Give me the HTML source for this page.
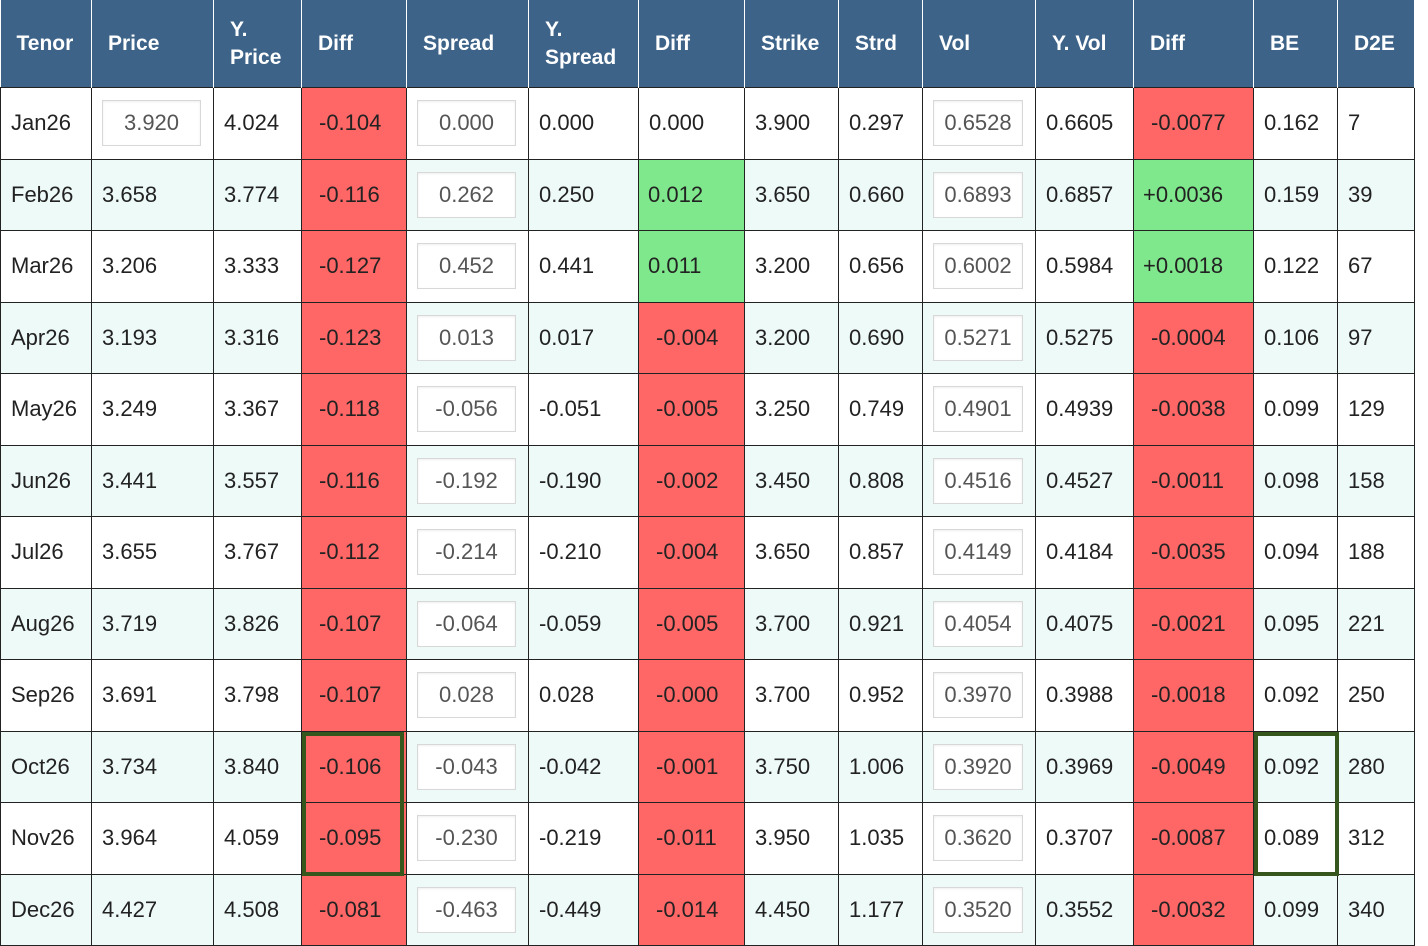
<!DOCTYPE html><html><head><style>
body{margin:0;background:#fff;width:1428px;height:946px;overflow:hidden;font-family:"Liberation Sans",sans-serif;}
table{position:absolute;left:0;top:0;border-collapse:collapse;table-layout:fixed;width:1414px;}
th{background:#3d6389;color:#fff;font-size:21px;font-weight:bold;text-align:left;padding:0 0 0 16px;height:87px;border-right:1.5px solid #fff;line-height:28px;}
td{font-size:22px;color:#222;padding:0 0 0 10px;border:1.5px solid #222;height:70.5px;white-space:nowrap;}
tbody tr:nth-child(even) td{background:#eefaf8;}
tbody tr:nth-child(odd) td{background:#fff;}
tbody tr td.r{background:#ff6666;padding-left:17px;}
tbody tr td.g{background:#80e88c;padding-left:9px;}
.b{display:inline-block;border:1.5px solid #d8d8d8;background:#fff;width:97px;height:44px;line-height:44px;text-align:center;color:#555;box-shadow:inset 0 1px 2px #eee;}
.v{width:88px;}
.hl{position:absolute;border:4px solid #35561c;box-sizing:border-box;}
</style></head><body>
<table>
<colgroup><col style="width:91px"><col style="width:122px"><col style="width:88px"><col style="width:105px"><col style="width:122px"><col style="width:110px"><col style="width:106px"><col style="width:94px"><col style="width:84px"><col style="width:113px"><col style="width:98px"><col style="width:120px"><col style="width:84px"><col style="width:77px"></colgroup>
<thead><tr><th>Tenor</th><th>Price</th><th>Y.<br>Price</th><th>Diff</th><th>Spread</th><th>Y.<br>Spread</th><th>Diff</th><th>Strike</th><th>Strd</th><th>Vol</th><th>Y. Vol</th><th>Diff</th><th>BE</th><th>D2E</th></tr></thead>
<tbody>
<tr><td>Jan26</td><td><span class="b">3.920</span></td><td>4.024</td><td class="r">-0.104</td><td><span class="b">0.000</span></td><td>0.000</td><td>0.000</td><td>3.900</td><td>0.297</td><td><span class="b v">0.6528</span></td><td>0.6605</td><td class="r">-0.0077</td><td>0.162</td><td>7</td></tr>
<tr><td>Feb26</td><td>3.658</td><td>3.774</td><td class="r">-0.116</td><td><span class="b">0.262</span></td><td>0.250</td><td class="g">0.012</td><td>3.650</td><td>0.660</td><td><span class="b v">0.6893</span></td><td>0.6857</td><td class="g">+0.0036</td><td>0.159</td><td>39</td></tr>
<tr><td>Mar26</td><td>3.206</td><td>3.333</td><td class="r">-0.127</td><td><span class="b">0.452</span></td><td>0.441</td><td class="g">0.011</td><td>3.200</td><td>0.656</td><td><span class="b v">0.6002</span></td><td>0.5984</td><td class="g">+0.0018</td><td>0.122</td><td>67</td></tr>
<tr><td>Apr26</td><td>3.193</td><td>3.316</td><td class="r">-0.123</td><td><span class="b">0.013</span></td><td>0.017</td><td class="r">-0.004</td><td>3.200</td><td>0.690</td><td><span class="b v">0.5271</span></td><td>0.5275</td><td class="r">-0.0004</td><td>0.106</td><td>97</td></tr>
<tr><td>May26</td><td>3.249</td><td>3.367</td><td class="r">-0.118</td><td><span class="b">-0.056</span></td><td>-0.051</td><td class="r">-0.005</td><td>3.250</td><td>0.749</td><td><span class="b v">0.4901</span></td><td>0.4939</td><td class="r">-0.0038</td><td>0.099</td><td>129</td></tr>
<tr><td>Jun26</td><td>3.441</td><td>3.557</td><td class="r">-0.116</td><td><span class="b">-0.192</span></td><td>-0.190</td><td class="r">-0.002</td><td>3.450</td><td>0.808</td><td><span class="b v">0.4516</span></td><td>0.4527</td><td class="r">-0.0011</td><td>0.098</td><td>158</td></tr>
<tr><td>Jul26</td><td>3.655</td><td>3.767</td><td class="r">-0.112</td><td><span class="b">-0.214</span></td><td>-0.210</td><td class="r">-0.004</td><td>3.650</td><td>0.857</td><td><span class="b v">0.4149</span></td><td>0.4184</td><td class="r">-0.0035</td><td>0.094</td><td>188</td></tr>
<tr><td>Aug26</td><td>3.719</td><td>3.826</td><td class="r">-0.107</td><td><span class="b">-0.064</span></td><td>-0.059</td><td class="r">-0.005</td><td>3.700</td><td>0.921</td><td><span class="b v">0.4054</span></td><td>0.4075</td><td class="r">-0.0021</td><td>0.095</td><td>221</td></tr>
<tr><td>Sep26</td><td>3.691</td><td>3.798</td><td class="r">-0.107</td><td><span class="b">0.028</span></td><td>0.028</td><td class="r">-0.000</td><td>3.700</td><td>0.952</td><td><span class="b v">0.3970</span></td><td>0.3988</td><td class="r">-0.0018</td><td>0.092</td><td>250</td></tr>
<tr><td>Oct26</td><td>3.734</td><td>3.840</td><td class="r">-0.106</td><td><span class="b">-0.043</span></td><td>-0.042</td><td class="r">-0.001</td><td>3.750</td><td>1.006</td><td><span class="b v">0.3920</span></td><td>0.3969</td><td class="r">-0.0049</td><td>0.092</td><td>280</td></tr>
<tr><td>Nov26</td><td>3.964</td><td>4.059</td><td class="r">-0.095</td><td><span class="b">-0.230</span></td><td>-0.219</td><td class="r">-0.011</td><td>3.950</td><td>1.035</td><td><span class="b v">0.3620</span></td><td>0.3707</td><td class="r">-0.0087</td><td>0.089</td><td>312</td></tr>
<tr><td>Dec26</td><td>4.427</td><td>4.508</td><td class="r">-0.081</td><td><span class="b">-0.463</span></td><td>-0.449</td><td class="r">-0.014</td><td>4.450</td><td>1.177</td><td><span class="b v">0.3520</span></td><td>0.3552</td><td class="r">-0.0032</td><td>0.099</td><td>340</td></tr>
</tbody></table>
<div class="hl" style="left:302px;top:732px;width:102px;height:144px"></div>
<div class="hl" style="left:1254px;top:732px;width:85px;height:144px"></div>
</body></html>
